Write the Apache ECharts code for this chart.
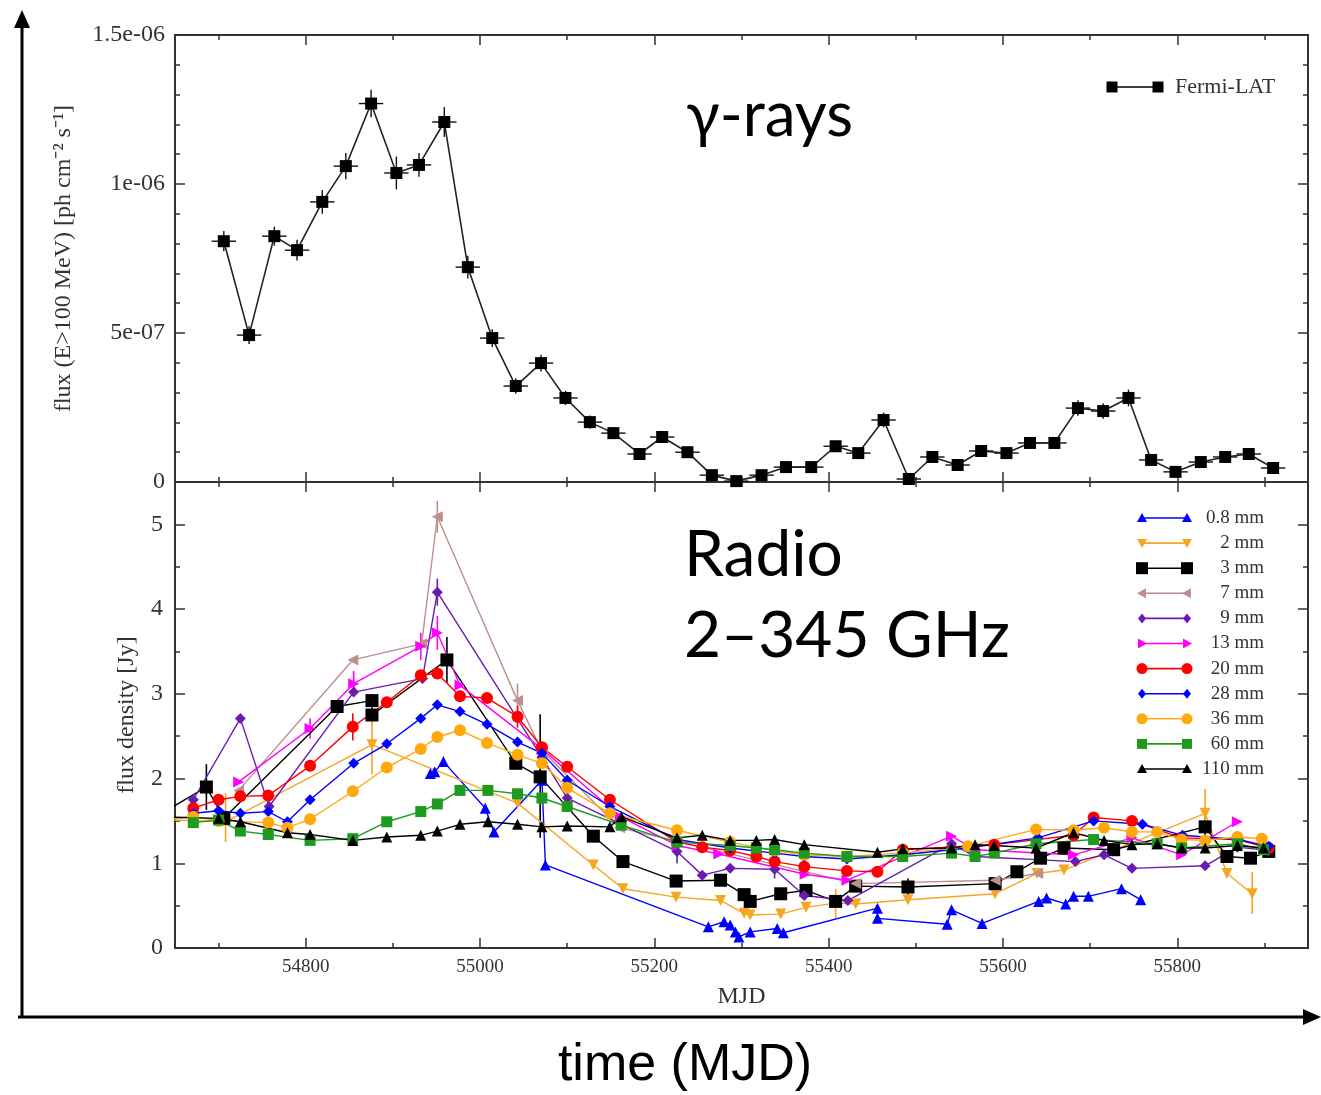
<!DOCTYPE html>
<html><head><meta charset="utf-8">
<script src="https://cdn.jsdelivr.net/npm/echarts@6/dist/echarts.min.js"></script>
<style>html,body{margin:0;padding:0;background:#fff}#c{width:1321px;height:1095px}</style>
</head><body><div id="c"></div>
<script>
// ---------------- DATA ----------------
const X_MIN = 54650, X_MAX = 55950;
const xMajorTicks = [54800, 55000, 55200, 55400, 55600, 55800];
const xMinorTicks = [54700, 54900, 55100, 55300, 55500, 55700, 55900];

// Fermi-LAT gamma-ray light curve (E>100 MeV)
const gammaMJD = [54706,54735,54764,54790,54819,54846,54875,54904,54930,54959,54986,55014,55041,55070,55098,55126,55153,55183,55209,55238,55266,55294,55323,55351,55380,55408,55434,55463,55492,55519,55548,55575,55604,55631,55659,55686,55715,55744,55770,55798,55827,55855,55882,55910];
const gammaFlux = [8.08e-7,4.93e-7,8.25e-7,7.78e-7,9.40e-7,1.06e-6,1.27e-6,1.037e-6,1.064e-6,1.208e-6,7.21e-7,4.83e-7,3.22e-7,3.99e-7,2.82e-7,2.01e-7,1.64e-7,9.4e-8,1.51e-7,1.0e-7,2.3e-8,3e-9,2.3e-8,5.0e-8,5.0e-8,1.2e-7,9.7e-8,2.08e-7,1.0e-8,8.4e-8,5.7e-8,1.04e-7,9.7e-8,1.31e-7,1.31e-7,2.48e-7,2.38e-7,2.82e-7,7.4e-8,3.4e-8,6.7e-8,8.4e-8,9.4e-8,4.7e-8];
const gammaErr = [3.4e-8,3.0e-8,3.2e-8,3.5e-8,4.0e-8,4.4e-8,4.6e-8,5.5e-8,4.0e-8,5.0e-8,3.8e-8,3.0e-8,2.6e-8,2.8e-8,2.4e-8,2.2e-8,2.0e-8,1.8e-8,2.0e-8,1.8e-8,1.5e-8,1.4e-8,1.5e-8,1.6e-8,1.6e-8,1.9e-8,1.8e-8,2.5e-8,1.4e-8,1.8e-8,1.6e-8,1.8e-8,1.8e-8,2.0e-8,2.0e-8,2.6e-8,2.6e-8,2.8e-8,1.8e-8,1.6e-8,1.7e-8,1.8e-8,1.9e-8,1.6e-8];
const GAMMA_HALF_BIN = 14;

// Radio light curves [MJD, flux density Jy]
const band08 = [[54943,2.06],[54948,2.08],[54958,2.20],[55006,1.65],[55016,1.37],[55071,1.98],[55075,0.98],[55262,0.25],[55280,0.31],[55287,0.27],[55293,0.19],[55297,0.13],[55310,0.19],[55341,0.23],[55348,0.18],[55456,0.47],[55456,0.35],[55536,0.28],[55541,0.45],[55576,0.29],[55641,0.55],[55650,0.59],[55672,0.52],[55681,0.61],[55698,0.61],[55736,0.70],[55758,0.57]];
const band2 = [[54620,1.52],[54708,1.49],[54876,2.40],[55043,1.71],[55130,0.98],[55164,0.70],[55225,0.60],[55276,0.56],[55303,0.41],[55310,0.39],[55345,0.40],[55374,0.48],[55408,0.53],[55431,0.52],[55491,0.57],[55591,0.64],[55639,0.88],[55670,0.92],[55832,1.59],[55857,0.88],[55886,0.64]];
const band3 = [[54620,1.50],[54686,1.90],[54706,1.53],[54836,2.85],[54876,2.92],[54876,2.75],[54962,3.40],[55041,2.18],[55069,2.02],[55130,1.32],[55164,1.02],[55225,0.79],[55276,0.80],[55303,0.63],[55310,0.55],[55345,0.64],[55374,0.68],[55408,0.55],[55431,0.73],[55491,0.72],[55591,0.76],[55616,0.90],[55643,1.06],[55670,1.18],[55727,1.16],[55832,1.43],[55857,1.08],[55884,1.06],[55905,1.14]];
const band7 = [[54723,1.86],[54854,3.40],[54933,3.59],[54951,5.09],[55043,2.92],[55071,2.33],[55160,1.42],[55431,0.76],[55591,0.80],[55640,0.88]];
const band9 = [[54671,1.75],[54725,2.71],[54758,1.67],[54855,3.02],[54934,3.18],[54951,4.20],[55071,2.25],[55100,1.77],[55226,1.14],[55255,0.86],[55287,0.94],[55338,0.93],[55372,0.62],[55422,0.56],[55541,1.23],[55568,1.08],[55683,1.02],[55716,1.10],[55748,0.94],[55832,0.97],[55869,1.19],[55905,1.15]];
const band13 = [[54723,1.96],[54805,2.59],[54855,3.12],[54932,3.56],[54951,3.72],[54977,3.10],[55071,2.35],[55161,1.55],[55226,1.21],[55274,1.11],[55373,0.87],[55421,0.80],[55541,1.32],[55568,1.16],[55681,1.10],[55748,1.30],[55805,1.10],[55869,1.49]];
const band20 = [[54671,1.65],[54700,1.75],[54725,1.79],[54757,1.80],[54805,2.15],[54854,2.61],[54893,2.90],[54932,3.22],[54951,3.24],[54977,2.97],[55008,2.95],[55043,2.73],[55071,2.37],[55100,2.14],[55149,1.75],[55226,1.25],[55255,1.19],[55287,1.15],[55317,1.08],[55338,1.02],[55372,0.96],[55421,0.91],[55456,0.90],[55485,1.16],[55590,1.22],[55681,1.33],[55704,1.54],[55748,1.50],[55805,1.30],[55869,1.28],[55905,1.18]];
const band28 = [[54671,1.59],[54700,1.62],[54725,1.59],[54757,1.61],[54779,1.49],[54805,1.75],[54855,2.18],[54893,2.41],[54932,2.71],[54951,2.87],[54977,2.79],[55008,2.64],[55043,2.43],[55071,2.30],[55100,1.98],[55149,1.67],[55226,1.28],[55287,1.18],[55338,1.12],[55372,1.08],[55421,1.05],[55485,1.10],[55560,1.18],[55640,1.30],[55704,1.50],[55760,1.46],[55806,1.33],[55870,1.28],[55905,1.20]];
const band36 = [[54620,1.50],[54671,1.55],[54700,1.50],[54757,1.48],[54779,1.42],[54805,1.52],[54854,1.85],[54893,2.13],[54932,2.35],[54951,2.49],[54977,2.57],[55008,2.42],[55043,2.28],[55071,2.18],[55100,1.89],[55149,1.59],[55226,1.39],[55287,1.25],[55338,1.15],[55372,1.10],[55421,1.08],[55485,1.12],[55560,1.20],[55638,1.40],[55681,1.39],[55716,1.42],[55748,1.37],[55777,1.37],[55805,1.28],[55832,1.27],[55869,1.31],[55897,1.29]];
const band60 = [[54671,1.48],[54700,1.51],[54725,1.38],[54757,1.34],[54805,1.27],[54854,1.29],[54893,1.49],[54932,1.61],[54951,1.70],[54977,1.86],[55009,1.86],[55043,1.82],[55071,1.77],[55100,1.67],[55162,1.45],[55226,1.25],[55287,1.21],[55317,1.18],[55338,1.16],[55372,1.12],[55421,1.08],[55485,1.08],[55541,1.12],[55568,1.08],[55590,1.12],[55638,1.23],[55704,1.28],[55777,1.23],[55805,1.18],[55869,1.23],[55899,1.16]];
const band110 = [[54620,1.55],[54700,1.53],[54725,1.49],[54779,1.36],[54805,1.34],[54854,1.27],[54893,1.31],[54932,1.33],[54951,1.38],[54977,1.46],[55009,1.49],[55043,1.46],[55071,1.43],[55100,1.44],[55149,1.43],[55162,1.55],[55226,1.30],[55255,1.33],[55287,1.27],[55317,1.27],[55338,1.28],[55372,1.22],[55456,1.13],[55485,1.17],[55541,1.18],[55568,1.22],[55590,1.21],[55638,1.18],[55681,1.36],[55716,1.27],[55748,1.22],[55777,1.23],[55805,1.18],[55832,1.18],[55869,1.21],[55899,1.18]];

const bandNames = ['0.8 mm','2 mm','3 mm','7 mm','9 mm','13 mm','20 mm','28 mm','36 mm','60 mm','110 mm'];
const bandData = [band08, band2, band3, band7, band9, band13, band20, band28, band36, band60, band110];

// radio error bars [MJD, low, high, band index]
const radioErrors = [[54686,1.63,2.17,2],[54708,1.25,1.83,1],[54805,2.47,2.71,5],[54854,2.45,2.77,6],[54855,2.97,3.27,5],[54876,2.05,2.70,1],[54932,3.40,3.72,5],[54951,4.90,5.28,3],[54951,4.04,4.36,4],[54951,3.52,3.92,5],[54962,3.13,3.67,2],[55043,2.72,3.12,3],[55043,2.60,2.86,6],[55069,1.30,2.76,2],[55226,1.00,1.28,4],[55338,0.82,1.04,4],[55408,0.35,0.70,1],[55491,0.62,0.82,2],[55832,1.25,1.62,2],[55832,1.45,1.88,1],[55886,0.40,0.90,1]];

// ---------------- STYLE ----------------
const bandColors = ['#0000ff','#f5a623','#000000','#bc8f8f','#6a1cb0','#ff00ff','#ff0000','#0000ff','#ffa90a','#1e9a1e','#000000'];
const bandSymbols = ['triUp','triDown','rect','triLeft','diamond','triRight','circle','diamond','circle','rect','triUp'];
const bandSizes = [11,11,13,11,11,11,12,11,12,11,11];

const SERIF = 'Liberation Serif';
const AX = '#333';
const G0 = {left:175, top:35, width:1133, height:447};
const G1 = {left:175, top:482, width:1133, height:466};

function echSymbol(t){
  if (t==='triUp'||t==='triDown'||t==='triLeft'||t==='triRight') return 'triangle';
  return t;
}
function echRotate(t){
  return {triDown:180, triLeft:90, triRight:-90}[t] || 0;
}

function xAxesFor(grid, labels){
  const base = {type:'value', gridIndex:grid, min:X_MIN, max:X_MAX, axisLine:{show:false}, splitLine:{show:false}};
  const tickStyle = {color:AX, width:1.5};
  const major = {...base, position:'bottom',
    axisTick:{show:true, inside:true, length:10, customValues:xMajorTicks, lineStyle:tickStyle},
    axisLabel:{show:labels, customValues:xMajorTicks, formatter:v=>String(v), fontFamily:SERIF, fontSize:19, color:AX, margin:10}};
  if (labels){
    major.name = 'MJD'; major.nameLocation='middle'; major.nameGap = 37;
    major.nameTextStyle = {fontFamily:SERIF, fontSize:24, color:AX};
  }
  return [
    major,
    {...base, position:'bottom', axisTick:{show:true, inside:true, length:5, customValues:xMinorTicks, lineStyle:tickStyle}, axisLabel:{show:false}},
    {...base, position:'top', axisTick:{show:true, inside:true, length:10, customValues:xMajorTicks, lineStyle:tickStyle}, axisLabel:{show:false}},
    {...base, position:'top', axisTick:{show:true, inside:true, length:5, customValues:xMinorTicks, lineStyle:tickStyle}, axisLabel:{show:false}}
  ];
}

function expFmt(v){
  if (Math.abs(v) < 1e-12) return '0';
  const s = Number(v.toPrecision(6)).toExponential();
  const m = s.match(/^(-?[\d.]+)e([+-])(\d+)$/);
  let e = m[3]; if (e.length<2) e = '0'+e;
  return m[1]+'e'+m[2]+e;
}

const tickStyle = {color:AX, width:1.5};
const yAxes = [
  {type:'value', gridIndex:0, position:'left', min:0, max:1.5e-6, interval:5e-7,
   axisLine:{show:false}, splitLine:{show:false},
   axisTick:{show:true, inside:true, length:10, lineStyle:tickStyle},
   minorTick:{show:true, splitNumber:5, length:5, lineStyle:tickStyle},
   axisLabel:{formatter:expFmt, fontFamily:SERIF, fontSize:24, color:AX, margin:10},
   name:'flux (E>100 MeV) [ph cm\u207B\u00B2 s\u207B\u00B9]', nameLocation:'middle', nameRotate:90, nameGap:99,
   nameTextStyle:{fontFamily:SERIF, fontSize:24, color:AX}},
  {type:'value', gridIndex:0, position:'right', min:0, max:1.5e-6, interval:5e-7,
   axisLine:{show:false}, splitLine:{show:false}, axisLabel:{show:false},
   axisTick:{show:true, inside:true, length:10, lineStyle:tickStyle},
   minorTick:{show:true, splitNumber:5, length:5, lineStyle:tickStyle}},
  {type:'value', gridIndex:1, position:'left', min:0, max:5.5, interval:1,
   axisLine:{show:false}, splitLine:{show:false},
   axisTick:{show:true, inside:true, length:10, lineStyle:tickStyle},
   minorTick:{show:true, splitNumber:2, length:5, lineStyle:tickStyle},
   axisLabel:{showMaxLabel:false, fontFamily:SERIF, fontSize:24, color:AX, margin:12},
   name:'flux density [Jy]', nameLocation:'middle', nameRotate:90, nameGap:36,
   nameTextStyle:{fontFamily:SERIF, fontSize:24, color:AX}},
  {type:'value', gridIndex:1, position:'right', min:0, max:5.5, interval:1,
   axisLine:{show:false}, splitLine:{show:false}, axisLabel:{show:false},
   axisTick:{show:true, inside:true, length:10, lineStyle:tickStyle},
   minorTick:{show:true, splitNumber:2, length:5, lineStyle:tickStyle}}
];

const xAxes = [...xAxesFor(0,false), ...xAxesFor(1,true)];
// axis indices: grid0 bottom-major = 0, grid1 bottom-major = 4

const series = [];
// gamma error bars
series.push({
  type:'custom', xAxisIndex:0, yAxisIndex:0, z:3, silent:true, clip:true,
  data: gammaMJD.map((m,i)=>[m, gammaFlux[i], gammaErr[i]]),
  encode:{x:0, y:1},
  renderItem:(params, api)=>{
    const x=api.value(0), y=api.value(1), e=api.value(2);
    const l=api.coord([x-GAMMA_HALF_BIN,y]), r=api.coord([x+GAMMA_HALF_BIN,y]);
    const t=api.coord([x,y+e]), b=api.coord([x,y-e]);
    return {type:'group', children:[
      {type:'line', shape:{x1:l[0],y1:l[1],x2:r[0],y2:r[1]}, style:{stroke:'#111', lineWidth:1.4}},
      {type:'line', shape:{x1:t[0],y1:t[1],x2:b[0],y2:b[1]}, style:{stroke:'#111', lineWidth:1.4}}
    ]};
  }
});
series.push({
  type:'line', name:'Fermi-LAT', xAxisIndex:0, yAxisIndex:0, z:4,
  data: gammaMJD.map((m,i)=>[m, gammaFlux[i]]),
  symbol:'rect', symbolSize:12, showAllSymbol:true,
  lineStyle:{color:'#222', width:1.6}, itemStyle:{color:'#000'}
});
// radio error bars
series.push({
  type:'custom', xAxisIndex:4, yAxisIndex:2, z:3, silent:true, clip:true,
  data: radioErrors,
  encode:{x:0, y:[1,2]},
  renderItem:(params, api)=>{
    const x=api.value(0), lo=api.value(1), hi=api.value(2), bi=api.value(3);
    const a=api.coord([x,lo]), b=api.coord([x,hi]);
    return {type:'line', shape:{x1:a[0],y1:a[1],x2:b[0],y2:b[1]}, style:{stroke:bandColors[bi], lineWidth:1.6}};
  }
});
bandData.forEach((d,i)=>{
  series.push({
    type:'line', name:bandNames[i], xAxisIndex:4, yAxisIndex:2, z:4,
    data:d, symbol:echSymbol(bandSymbols[i]), symbolRotate:echRotate(bandSymbols[i]),
    symbolSize:bandSizes[i], showAllSymbol:true, clip:true,
    lineStyle:{color:bandColors[i], width:1.4}, itemStyle:{color:bandColors[i]}
  });
});

// ---------------- GRAPHICS (legends, annotations, outer arrows) ----------------
function shapeAt(t, x, y, s, color){
  const h=s/2;
  const poly = pts => ({type:'polygon', shape:{points:pts}, style:{fill:color}, z:100});
  switch(t){
    case 'rect': return {type:'rect', shape:{x:x-h,y:y-h,width:s,height:s}, style:{fill:color}, z:100};
    case 'circle': return {type:'circle', shape:{cx:x,cy:y,r:h}, style:{fill:color}, z:100};
    case 'triUp': return poly([[x,y-h],[x+h,y+h*0.8],[x-h,y+h*0.8]]);
    case 'triDown': return poly([[x,y+h],[x+h,y-h*0.8],[x-h,y-h*0.8]]);
    case 'triLeft': return poly([[x-h,y],[x+h*0.8,y-h],[x+h*0.8,y+h]]);
    case 'triRight': return poly([[x+h,y],[x-h*0.8,y-h],[x-h*0.8,y+h]]);
    case 'diamond': return poly([[x,y-h],[x+h*0.8,y],[x,y+h],[x-h*0.8,y]]);
  }
}
const graphics = [];
// top legend
graphics.push({type:'line', shape:{x1:1112,y1:87,x2:1158,y2:87}, style:{stroke:'#000', lineWidth:1.6}, z:100});
graphics.push(shapeAt('rect',1112,87,11,'#000'), shapeAt('rect',1158,87,11,'#000'));
graphics.push({type:'text', x:1175, y:87, z:100, style:{text:'Fermi-LAT', fill:AX, font:'22px "Liberation Serif"', verticalAlign:'middle', textVerticalAlign:'middle'}});
// radio legend
bandNames.forEach((n,i)=>{
  const y = 518 + i*25.1;
  graphics.push({type:'line', shape:{x1:1142,y1:y,x2:1187,y2:y}, style:{stroke:bandColors[i], lineWidth:1.6}, z:100});
  graphics.push(shapeAt(bandSymbols[i],1142,y,bandSizes[i]-1,bandColors[i]), shapeAt(bandSymbols[i],1187,y,bandSizes[i]-1,bandColors[i]));
  graphics.push({type:'text', x:1264, y:y, z:100, style:{text:n, fill:AX, font:'19px "Liberation Serif"', align:'right', textAlign:'right', verticalAlign:'middle', textVerticalAlign:'middle'}});
});
// annotations
graphics.push({type:'text', x:686, y:116, z:100, style:{text:'\u03B3-rays', fill:'#000', font:'62px Lato', verticalAlign:'middle', textVerticalAlign:'middle'}});
graphics.push({type:'text', x:684, y:555, z:100, style:{text:'Radio', fill:'#000', font:'64px Lato', verticalAlign:'middle', textVerticalAlign:'middle'}});
graphics.push({type:'text', x:684, y:636, z:100, style:{text:'2\u2013345 GHz', fill:'#000', font:'64px Lato', verticalAlign:'middle', textVerticalAlign:'middle'}});
graphics.push({type:'text', x:685, y:1066, z:100, style:{text:'time (MJD)', fill:'#000', font:'52px "Liberation Sans"', align:'center', textAlign:'center', verticalAlign:'middle', textVerticalAlign:'middle'}});
// outer arrows
graphics.push({type:'line', shape:{x1:22,y1:1018,x2:22,y2:24}, style:{stroke:'#000', lineWidth:3}, z:100});
graphics.push({type:'polygon', shape:{points:[[22,10],[14,28],[30,28]]}, style:{fill:'#000'}, z:100});
graphics.push({type:'line', shape:{x1:18,y1:1017,x2:1306,y2:1017}, style:{stroke:'#000', lineWidth:3}, z:100});
graphics.push({type:'polygon', shape:{points:[[1321,1017],[1303,1009],[1303,1025]]}, style:{fill:'#000'}, z:100});

const option = {
  backgroundColor:'#fff',
  animation:false,
  grid:[
    {...G0, show:true, borderColor:AX, borderWidth:2, backgroundColor:'transparent', containLabel:false},
    {...G1, show:true, borderColor:AX, borderWidth:2, backgroundColor:'transparent', containLabel:false}
  ],
  xAxis: xAxes,
  yAxis: yAxes,
  series: series,
  graphic: graphics
};
const chart = echarts.init(document.getElementById('c'));
chart.setOption(option);
</script>
</body></html>
